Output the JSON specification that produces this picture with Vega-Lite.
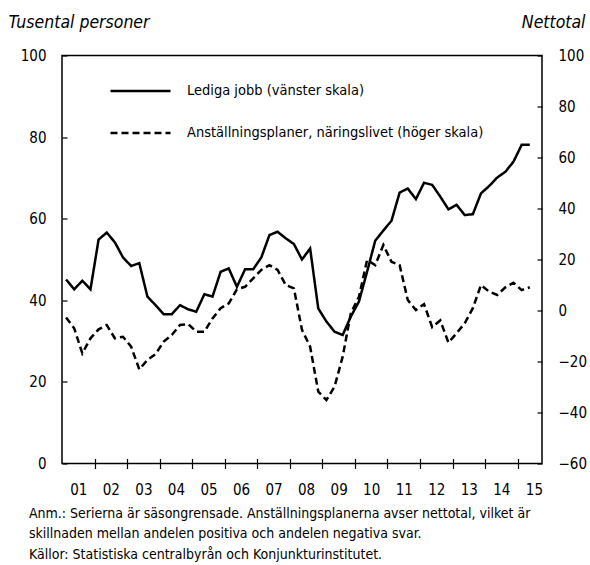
{
  "$schema": "https://vega.github.io/schema/vega-lite/v6.json",
  "autosize": "none",
  "width": 480,
  "height": 408,
  "padding": {"left": 62, "top": 55.5, "right": 48, "bottom": 101.5},
  "background": "white",
  "config": {
    "view": {"stroke": "black", "strokeWidth": 1.5},
    "font": "DejaVu Sans Condensed, Liberation Sans",
    "axis": {
      "labelFont": "DejaVu Sans Condensed, Liberation Sans",
      "titleFont": "DejaVu Sans Condensed, Liberation Sans",
      "labelColor": "black",
      "titleColor": "black",
      "tickColor": "black",
      "tickWidth": 1.2,
      "labelFontSize": 15,
      "grid": false,
      "domain": false
    }
  },
  "data": {
    "values": [
      {"t": 2001.125, "jobb": 45.1, "plan": -2.7},
      {"t": 2001.375, "jobb": 42.7, "plan": -7.0},
      {"t": 2001.625, "jobb": 44.8, "plan": -16.8},
      {"t": 2001.875, "jobb": 42.7, "plan": -10.9},
      {"t": 2002.125, "jobb": 54.9, "plan": -7.4},
      {"t": 2002.375, "jobb": 56.6, "plan": -5.7},
      {"t": 2002.625, "jobb": 54.2, "plan": -10.9},
      {"t": 2002.875, "jobb": 50.5, "plan": -10.3},
      {"t": 2003.125, "jobb": 48.4, "plan": -14.2},
      {"t": 2003.375, "jobb": 49.1, "plan": -23.1},
      {"t": 2003.625, "jobb": 40.9, "plan": -19.4},
      {"t": 2003.875, "jobb": 38.8, "plan": -17.1},
      {"t": 2004.125, "jobb": 36.6, "plan": -12.2},
      {"t": 2004.375, "jobb": 36.6, "plan": -9.6},
      {"t": 2004.625, "jobb": 38.8, "plan": -5.7},
      {"t": 2004.875, "jobb": 37.8, "plan": -5.3},
      {"t": 2005.125, "jobb": 37.2, "plan": -8.3},
      {"t": 2005.375, "jobb": 41.5, "plan": -8.3},
      {"t": 2005.625, "jobb": 40.9, "plan": -3.1},
      {"t": 2005.875, "jobb": 47.0, "plan": 0.9},
      {"t": 2006.125, "jobb": 47.8, "plan": 2.8},
      {"t": 2006.375, "jobb": 43.3, "plan": 8.3},
      {"t": 2006.625, "jobb": 47.6, "plan": 9.3},
      {"t": 2006.875, "jobb": 47.6, "plan": 12.6},
      {"t": 2007.125, "jobb": 50.5, "plan": 15.9},
      {"t": 2007.375, "jobb": 56.0, "plan": 17.8},
      {"t": 2007.625, "jobb": 56.8, "plan": 15.9},
      {"t": 2007.875, "jobb": 55.2, "plan": 10.0},
      {"t": 2008.125, "jobb": 53.8, "plan": 8.7},
      {"t": 2008.375, "jobb": 50.0, "plan": -7.6},
      {"t": 2008.625, "jobb": 52.7, "plan": -14.2},
      {"t": 2008.875, "jobb": 38.0, "plan": -31.8},
      {"t": 2009.125, "jobb": 34.8, "plan": -35.1},
      {"t": 2009.375, "jobb": 32.3, "plan": -29.9},
      {"t": 2009.625, "jobb": 31.5, "plan": -18.1},
      {"t": 2009.875, "jobb": 36.0, "plan": -1.1},
      {"t": 2010.125, "jobb": 39.7, "plan": 5.4},
      {"t": 2010.375, "jobb": 47.0, "plan": 19.8},
      {"t": 2010.625, "jobb": 54.6, "plan": 17.8},
      {"t": 2010.875, "jobb": 57.1, "plan": 25.7},
      {"t": 2011.125, "jobb": 59.5, "plan": 19.1},
      {"t": 2011.375, "jobb": 66.4, "plan": 17.8},
      {"t": 2011.625, "jobb": 67.4, "plan": 4.1},
      {"t": 2011.875, "jobb": 64.8, "plan": 0.2},
      {"t": 2012.125, "jobb": 68.8, "plan": 2.5},
      {"t": 2012.375, "jobb": 68.3, "plan": -6.5},
      {"t": 2012.625, "jobb": 65.4, "plan": -3.9},
      {"t": 2012.875, "jobb": 62.3, "plan": -12.6},
      {"t": 2013.125, "jobb": 63.4, "plan": -8.9},
      {"t": 2013.375, "jobb": 60.9, "plan": -5.0},
      {"t": 2013.625, "jobb": 61.1, "plan": 0.9},
      {"t": 2013.875, "jobb": 66.2, "plan": 10.0},
      {"t": 2014.125, "jobb": 68.0, "plan": 7.4},
      {"t": 2014.375, "jobb": 70.1, "plan": 6.1},
      {"t": 2014.625, "jobb": 71.5, "plan": 9.1},
      {"t": 2014.875, "jobb": 74.0, "plan": 10.9},
      {"t": 2015.125, "jobb": 78.1, "plan": 8.0},
      {"t": 2015.375, "jobb": 78.1, "plan": 9.1}
    ]
  },
  "title": {
    "text": [
      "Anm.: Serierna är säsongrensade. Anställningsplanerna avser nettotal, vilket är",
      "skillnaden mellan andelen positiva och andelen negativa svar.",
      "Källor: Statistiska centralbyrån och Konjunkturinstitutet."
    ],
    "orient": "bottom",
    "anchor": "start",
    "frame": "group",
    "dx": -33,
    "offset": 9,
    "font": "DejaVu Sans Condensed, Liberation Sans",
    "fontSize": 14,
    "fontWeight": "normal",
    "lineHeight": 20.5,
    "color": "black"
  },
  "encoding": {
    "x": {
      "field": "t",
      "type": "quantitative",
      "scale": {"domain": [2001, 2015.75], "nice": false, "zero": false},
      "axis": {
        "title": null,
        "values": [2001, 2002, 2003, 2004, 2005, 2006, 2007, 2008, 2009, 2010, 2011, 2012, 2013, 2014, 2015],
        "format": "d",
        "labelExpr": "slice(datum.label, -2)",
        "labelOffset": 16.3,
        "offset": -5,
        "tickSize": 10,
        "tickOpacity": {"condition": {"test": "datum.value == 2001", "value": 0}, "value": 1},
        "labelPadding": 14,
        "labelFlush": false,
        "labelOverlap": false
      }
    }
  },
  "layer": [
    {
      "mark": {"type": "line", "color": "black", "strokeWidth": 2.5},
      "encoding": {
        "y": {
          "field": "jobb",
          "type": "quantitative",
          "scale": {"domain": [0, 100], "nice": false},
          "axis": {
            "orient": "left",
            "values": [0, 20, 40, 60, 80, 100],
            "tickSize": -5,
            "labelPadding": 21,
            "title": "Tusental personer",
            "titleAngle": 0,
            "titleAlign": "left",
            "titleBaseline": "alphabetic",
            "titleX": -54,
            "titleY": -28,
            "titleFontStyle": "italic",
            "titleFontWeight": "normal",
            "titleFontSize": 17.5
          }
        },
        "strokeDash": {
          "datum": "Lediga jobb (vänster skala)",
          "type": "nominal",
          "scale": {
            "domain": ["Lediga jobb (vänster skala)", "Anställningsplaner, näringslivet (höger skala)"],
            "range": [[1, 0], [7, 4]]
          },
          "legend": {
            "orient": "none",
            "legendX": 47,
            "legendY": 4,
            "title": null,
            "symbolType": "stroke",
            "symbolSize": 3600,
            "symbolStrokeWidth": 2.5,
            "symbolStrokeColor": "black",
            "labelFont": "DejaVu Sans Condensed, Liberation Sans",
            "labelFontSize": 14.5,
            "labelColor": "black",
            "labelOffset": 15,
            "labelLimit": 400,
            "rowPadding": 4
          }
        }
      }
    },
    {
      "mark": {"type": "line", "color": "black", "strokeWidth": 2.5},
      "encoding": {
        "y": {
          "field": "plan",
          "type": "quantitative",
          "scale": {"domain": [-60, 100], "nice": false, "zero": false},
          "axis": {
            "orient": "right",
            "values": [-60, -40, -20, 0, 20, 40, 60, 80, 100],
            "tickSize": -5,
            "labelPadding": 21,
            "title": "Nettotal",
            "titleAngle": 0,
            "titleAlign": "right",
            "titleBaseline": "alphabetic",
            "titleX": 43,
            "titleY": -28,
            "titleFontStyle": "italic",
            "titleFontWeight": "normal",
            "titleFontSize": 17.5
          }
        },
        "strokeDash": {
          "datum": "Anställningsplaner, näringslivet (höger skala)",
          "type": "nominal"
        }
      }
    }
  ],
  "resolve": {"scale": {"y": "independent"}, "axis": {"y": "independent"}}
}
